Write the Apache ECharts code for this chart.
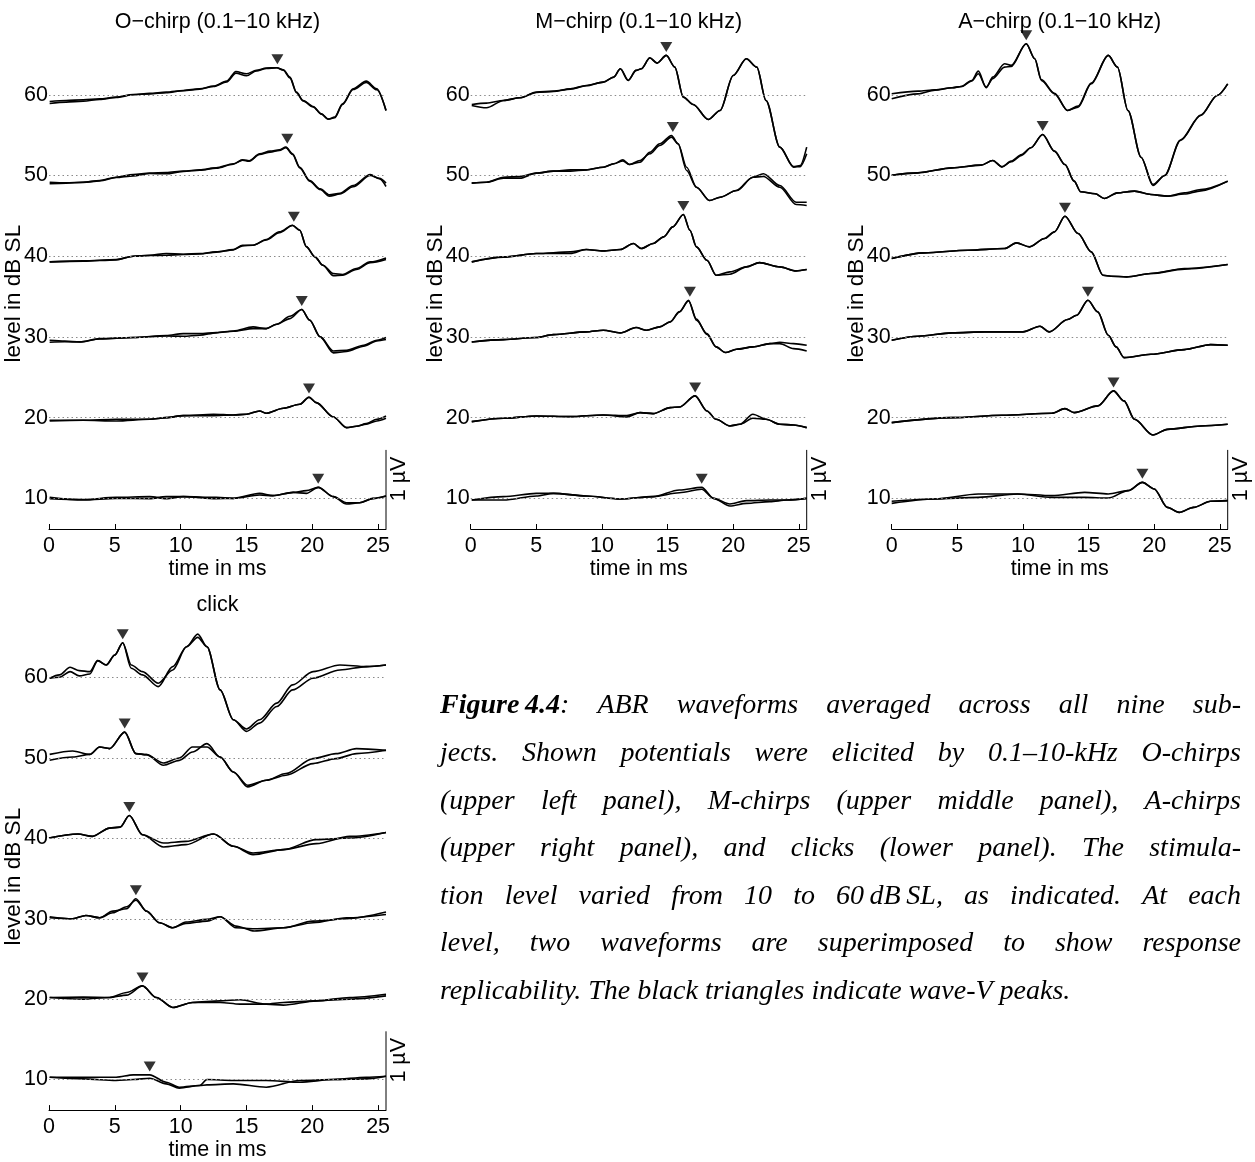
<!DOCTYPE html>
<html><head><meta charset="utf-8">
<script src="https://cdn.jsdelivr.net/npm/echarts@6/dist/echarts.min.js"></script>
<style>html,body{margin:0;padding:0;background:#fff}#c{width:1255px;height:1162px}</style>
</head><body><div id="c"></div>
<script>
// ---------- data ----------
const levels = [60, 50, 40, 30, 20, 10];          // dB SL
const xTicks = [0, 5, 10, 15, 20, 25];            // ms
const panelTitles = ['O\u2212chirp (0.1\u221210 kHz)', 'M\u2212chirp (0.1\u221210 kHz)', 'A\u2212chirp (0.1\u221210 kHz)', 'click'];
const xLabel = 'time in ms';
const yLabel = 'level in dB SL';
const scaleLabel = '1 \u00b5V';
const scaleBar = [[25.6, 6.2], [25.6, 16.0]];     // 1 uV bar in axis units
// rows: [time ms, replicate A, replicate B] deflection in axis units (1 uV ~ 9.8)
const O60 = [[0.05,-0.83,-1.07],[1.3,-0.70,-0.91],[2.6,-0.62,-0.79],[3.85,-0.50,-0.58],[5.1,-0.29,-0.33],[6.4,0.04,0.0],[7.65,0.17,0.12],[8.9,0.33,0.25],[10.2,0.54,0.50],[11.45,0.74,0.70],[12.5,1.07,1.03],[13.5,1.69,1.60],[14.2,2.89,2.69],[15.0,2.60,2.36],[15.75,3.02,2.95],[16.5,3.31,3.25],[17.3,3.35,3.35],[17.8,3.10,3.05],[18.3,2.19,2.10],[18.8,0.33,0.25],[19.3,-0.70,-0.75],[20.06,-1.45,-1.50],[20.7,-2.36,-2.40],[21.2,-3.02,-3.02],[21.7,-2.77,-2.85],[22.3,-1.12,-1.20],[23.1,0.74,0.65],[24.1,1.69,1.53],[24.9,0.74,0.62],[25.6,-1.94,-1.94]];
const O50 = [[0.05,-0.83,-1.03],[1.3,-0.90,-0.95],[2.6,-0.83,-0.85],[3.85,-0.62,-0.66],[5.1,-0.21,-0.25],[6.4,0.12,-0.04],[7.65,0.29,0.25],[8.9,0.37,0.21],[10.2,0.54,0.50],[11.45,0.70,0.66],[12.7,0.95,0.91],[14.0,1.45,1.40],[14.7,1.94,1.90],[15.2,1.82,1.78],[16.0,2.69,2.60],[16.8,3.02,2.89],[17.5,3.18,3.10],[18.0,3.51,3.45],[18.5,2.69,2.60],[19.05,1.03,0.95],[19.8,-0.62,-0.70],[20.6,-1.65,-1.74],[21.3,-2.40,-2.56],[22.1,-2.19,-2.30],[23.1,-1.24,-1.40],[24.4,0.12,0.0],[25.1,-0.41,-0.35],[25.6,-1.36,-0.95]];
const O40 = [[0.05,-0.70,-0.70],[2.6,-0.58,-0.62],[5.1,-0.41,-0.45],[6.4,0.0,0.0],[7.65,0.12,0.08],[8.9,0.33,0.12],[10.2,0.25,0.21],[11.45,0.33,0.29],[12.7,0.54,0.50],[14.0,0.83,0.78],[14.7,1.36,1.28],[15.5,1.36,1.36],[16.5,2.07,2.0],[17.5,3.02,2.90],[18.5,3.84,3.80],[19.05,3.22,3.22],[19.55,1.16,1.20],[20.2,-0.08,-0.08],[20.8,-1.12,-1.12],[21.6,-2.15,-2.40],[22.3,-2.27,-2.35],[23.35,-1.53,-1.65],[24.4,-0.70,-0.80],[25.6,-0.21,-0.41]];
const O30 = [[0.05,-0.41,-0.66],[1.2,-0.50,-0.60],[2.35,-0.62,-0.62],[3.85,-0.21,-0.25],[6.4,-0.08,-0.08],[8.9,0.17,0.12],[10.2,0.41,0.08],[11.45,0.41,0.21],[12.7,0.54,0.50],[14.0,0.74,0.70],[15.5,1.24,1.03],[16.5,1.03,1.03],[17.3,1.57,1.57],[18.3,2.56,2.27],[19.2,3.39,3.39],[19.8,2.07,2.10],[20.6,0.0,0.0],[21.6,-1.74,-1.98],[22.6,-1.65,-1.80],[23.9,-1.03,-1.15],[24.9,-0.41,-0.50],[25.6,-0.08,-0.33]];
const O20 = [[0.05,-0.33,-0.41],[2.6,-0.33,-0.33],[5.1,-0.20,-0.41],[7.65,-0.20,-0.20],[8.9,0.0,0.0],[10.2,0.25,0.25],[12.5,0.41,0.25],[14.0,0.33,0.33],[15.0,0.41,0.41],[16.0,0.83,0.83],[16.5,0.54,0.54],[17.8,1.16,1.16],[19.05,1.65,1.65],[19.75,2.56,2.50],[20.3,1.86,1.86],[21.6,0.08,0.08],[22.6,-1.24,-1.24],[23.35,-1.07,-1.07],[24.1,-0.74,-0.80],[24.9,-0.21,-0.41],[25.6,0.21,-0.08]];
const O10 = [[0.05,0.12,-0.04],[2.6,-0.21,-0.15],[5.1,0.0,0.12],[7.65,-0.04,0.21],[8.9,0.21,-0.04],[10.2,0.21,0.21],[12.7,0.12,-0.04],[14.0,0.0,0.0],[16.0,0.62,0.41],[17.0,0.33,0.33],[18.55,0.74,0.74],[19.55,0.95,0.62],[20.45,1.36,1.36],[21.6,0.21,0.21],[22.6,-0.70,-0.54],[23.6,-0.54,-0.54],[24.6,0.0,-0.04],[25.6,0.29,0.29]];
const M60 = [[0.08,-1.20,-1.32],[1.2,-1.03,-1.61],[2.5,-0.70,-0.70],[3.75,-0.37,-0.37],[5.0,0.33,0.29],[6.3,0.45,0.41],[7.6,0.74,0.70],[8.8,1.16,1.12],[10.1,1.57,1.57],[10.9,2.19,2.19],[11.4,3.22,3.22],[12.0,1.78,1.78],[12.6,3.02,3.02],[13.0,3.22,3.22],[13.65,4.59,4.55],[14.2,3.93,3.93],[14.9,4.88,4.88],[15.55,3.43,3.43],[16.2,-0.29,-0.29],[16.95,-1.20,-1.20],[18.1,-3.06,-3.06],[19.0,-1.94,-1.94],[20.0,2.40,2.40],[21.0,4.46,4.46],[21.8,3.43,3.43],[22.5,-0.70,-0.70],[23.55,-6.49,-6.49],[24.6,-8.97,-8.90],[25.1,-8.76,-8.90],[25.6,-6.49,-7.31]];
const M50 = [[0.08,-0.95,-0.95],[1.2,-0.83,-0.83],[2.5,-0.21,-0.33],[3.75,-0.12,-0.33],[5.0,0.29,0.29],[6.3,0.54,0.54],[7.6,0.54,0.70],[8.8,0.70,0.70],[10.1,1.03,1.03],[10.9,1.45,1.45],[11.6,1.94,1.80],[12.1,1.36,1.36],[12.9,1.65,1.86],[13.65,2.89,2.69],[14.4,3.93,3.72],[15.3,4.96,4.75],[15.8,3.93,3.93],[16.45,0.62,1.03],[17.2,-1.45,-1.45],[18.2,-3.10,-3.10],[19.0,-2.69,-2.69],[20.25,-1.86,-1.86],[21.5,-0.21,-0.21],[22.3,0.21,-0.12],[23.55,-1.24,-1.45],[24.8,-3.31,-3.60],[25.6,-3.31,-3.72]];
const M40 = [[0.08,-0.70,-0.70],[2.5,-0.08,-0.12],[5.0,0.33,0.33],[7.6,0.54,0.33],[8.8,0.83,0.83],[10.1,0.66,0.66],[11.4,0.83,0.83],[12.4,1.57,1.57],[13.0,0.95,0.95],[13.9,1.57,1.57],[14.7,2.40,2.40],[15.4,3.64,3.64],[16.2,5.17,5.17],[16.7,3.22,3.22],[17.2,1.16,1.16],[18.0,-0.50,-0.50],[18.7,-2.36,-2.36],[19.75,-1.94,-2.23],[21.0,-1.32,-1.32],[22.0,-0.79,-0.79],[23.55,-1.32,-1.32],[24.8,-1.82,-1.82],[25.6,-1.65,-1.65]];
const M30 = [[0.08,-0.62,-0.62],[2.5,-0.33,-0.33],[5.0,-0.08,-0.08],[6.3,0.29,0.29],[8.8,0.62,0.62],[10.1,0.83,0.83],[11.4,0.50,0.50],[12.6,1.16,1.16],[13.4,0.83,0.83],[14.4,1.24,1.24],[15.2,1.86,1.86],[15.9,3.10,3.10],[16.6,4.55,4.45],[17.2,2.07,2.20],[18.0,0.41,0.30],[18.7,-1.24,-1.24],[19.4,-1.94,-1.94],[20.25,-1.53,-1.53],[21.5,-1.24,-1.24],[22.8,-0.83,-0.83],[23.55,-0.66,-0.83],[24.6,-0.83,-1.45],[25.6,-1.03,-1.74]];
const M20 = [[0.08,-0.50,-0.50],[2.5,-0.08,-0.08],[5.0,0.21,0.21],[7.6,0.12,0.12],[10.1,0.33,0.33],[11.9,0.08,0.25],[12.9,0.62,0.62],[13.9,0.50,0.50],[15.2,1.24,1.24],[15.9,1.32,1.32],[17.1,2.69,2.69],[18.0,0.83,0.83],[18.7,-0.21,-0.21],[19.75,-1.03,-1.03],[20.5,-0.83,-0.83],[21.5,0.41,-0.08],[22.5,-0.21,-0.21],[23.55,-0.83,-0.83],[24.6,-0.91,-0.91],[25.6,-1.24,-1.24]];
const M10 = [[0.08,-0.21,-0.21],[2.5,0.21,-0.21],[5.0,0.62,0.29],[6.3,0.62,0.62],[8.8,0.29,0.29],[11.4,-0.08,-0.08],[13.9,0.21,0.21],[15.9,1.03,0.70],[17.6,1.36,1.12],[18.5,0.0,0.0],[19.75,-0.95,-0.70],[21.0,-0.62,-0.29],[22.8,-0.41,-0.21],[24.1,-0.21,-0.21],[25.6,0.0,0.0]];
const A60 = [[0.0,0.12,-0.50],[2.0,0.45,0.12],[3.3,0.62,0.58],[4.6,0.87,0.87],[5.3,1.03,1.03],[6.1,1.78,1.70],[6.6,2.93,2.60],[7.2,0.87,0.95],[7.7,2.19,2.00],[8.6,3.84,3.43],[9.1,3.64,3.50],[10.25,6.32,6.32],[10.9,4.46,4.46],[11.4,1.78,1.90],[12.4,0.12,0.20],[13.4,-1.94,-1.94],[14.2,-1.53,-1.40],[15.2,1.36,1.45],[16.5,4.88,4.88],[17.2,3.43,3.43],[18.0,-1.94,-1.94],[19.0,-7.73,-7.73],[19.9,-11.24,-11.10],[20.8,-10.0,-10.0],[22.0,-5.66,-5.60],[23.55,-2.56,-2.50],[24.8,-0.08,-0.08],[25.6,1.36,1.36]];
const A50 = [[0.0,0.04,0.04],[2.0,0.33,0.33],[4.6,0.95,0.95],[6.8,1.28,1.28],[7.7,1.86,1.86],[8.4,1.07,1.07],[9.1,1.78,1.70],[9.9,2.60,2.50],[10.6,3.43,3.43],[11.5,5.08,5.08],[12.4,3.02,3.02],[13.2,1.36,1.36],[13.9,-0.70,-0.70],[14.4,-2.02,-2.02],[15.5,-2.27,-2.27],[16.2,-2.85,-2.85],[17.2,-2.15,-2.15],[18.5,-1.94,-1.94],[19.75,-2.36,-2.36],[21.0,-2.56,-2.56],[22.3,-2.15,-2.30],[23.55,-1.74,-1.90],[25.6,-0.70,-0.70]];
const A40 = [[0.0,-0.29,-0.29],[2.5,0.41,0.41],[5.8,0.74,0.74],[8.6,0.95,0.95],[9.5,1.65,1.65],[10.5,1.16,1.16],[11.65,2.19,2.19],[12.4,3.02,3.02],[13.2,4.96,4.96],[14.2,2.81,2.81],[15.2,0.54,0.54],[16.1,-2.36,-2.36],[16.7,-2.48,-2.48],[17.9,-2.56,-2.56],[19.75,-2.15,-2.15],[22.3,-1.53,-1.60],[25.6,-1.03,-1.03]];
const A30 = [[0.0,-0.41,-0.41],[2.0,0.08,0.08],[4.6,0.50,0.50],[7.1,0.62,0.62],[10.0,0.62,0.62],[11.3,1.32,1.32],[12.0,0.62,0.62],[13.4,2.15,2.15],[14.1,2.69,2.69],[14.95,4.55,4.55],[15.7,3.10,3.10],[16.5,0.21,0.21],[17.1,-1.24,-1.24],[17.7,-2.56,-2.56],[19.75,-2.15,-2.15],[22.3,-1.57,-1.57],[24.3,-0.95,-0.95],[25.6,-1.03,-1.03]];
const A20 = [[0.0,-0.62,-0.62],[4.6,0.0,0.0],[8.4,0.29,0.29],[12.2,0.54,0.54],[13.2,1.12,1.12],[13.9,0.62,0.62],[15.7,1.45,1.45],[16.9,3.31,3.31],[17.7,2.07,2.07],[18.5,-0.21,-0.21],[19.9,-2.15,-2.15],[21.0,-1.45,-1.45],[23.55,-1.03,-1.03],[25.6,-0.83,-0.83]];
const A10 = [[0.0,-0.62,-0.37],[3.3,-0.08,-0.08],[6.6,0.54,0.12],[9.6,0.54,0.54],[12.2,0.33,0.12],[14.7,0.74,0.12],[16.5,0.54,0.04],[18.0,0.95,0.95],[19.1,1.98,1.98],[20.0,1.16,1.16],[21.0,-1.12,-1.12],[21.9,-1.74,-1.74],[23.0,-1.12,-1.12],[24.3,-0.37,-0.37],[25.6,-0.29,-0.29]];
const C60 = [[0.05,-0.08,-0.08],[0.8,0.33,0.04],[1.6,1.28,0.74],[2.3,0.87,0.21],[3.1,0.74,0.45],[3.7,2.11,2.11],[4.35,1.57,1.57],[5.0,2.81,2.81],[5.6,4.34,4.34],[6.25,1.57,1.16],[7.1,0.74,0.33],[8.3,-0.70,-1.12],[9.4,0.95,1.36],[10.45,3.84,3.84],[11.3,5.41,5.0],[12.0,3.84,3.84],[13.0,-1.53,-1.53],[14.0,-5.25,-5.25],[15.0,-6.40,-6.69],[16.0,-5.25,-5.66],[17.3,-3.18,-3.60],[18.5,-0.91,-1.53],[20.06,0.74,-0.08],[22.1,1.57,0.95],[24.1,1.36,1.36],[25.6,1.57,1.57]];
const C50 = [[0.05,0.45,-0.29],[1.8,0.87,0.12],[3.1,0.45,0.45],[3.85,1.36,1.36],[4.6,1.16,1.16],[5.75,3.22,3.22],[6.6,0.54,0.54],[7.4,0.41,0.41],[8.7,-0.91,-0.62],[9.9,-0.30,0.0],[10.9,0.74,1.36],[12.0,1.78,1.36],[13.0,0.12,0.12],[14.0,-1.74,-1.74],[15.1,-3.40,-3.60],[16.5,-2.77,-2.77],[18.0,-1.94,-2.15],[20.06,-0.08,-0.70],[21.8,0.54,-0.08],[23.35,1.16,0.54],[25.6,0.95,0.95]];
const C40 = [[0.0,0.04,0.04],[2.2,0.54,0.54],[3.3,0.25,0.25],[4.6,1.28,1.28],[5.4,1.40,1.40],[6.1,2.85,2.85],[7.1,0.45,0.45],[8.7,-0.58,-1.07],[10.4,-0.37,-0.78],[12.5,0.54,0.54],[14.0,-0.99,-0.99],[15.5,-1.82,-2.02],[17.8,-1.40,-1.40],[20.3,-0.66,-0.16],[22.85,0.25,0.04],[25.6,0.74,0.74]];
const C30 = [[0.05,0.25,0.12],[1.8,0.0,0.0],[2.8,0.41,0.41],[3.85,0.12,0.12],[4.85,0.95,0.74],[5.9,1.24,1.49],[6.6,2.48,2.31],[7.4,0.95,0.95],[8.4,-0.50,-0.50],[9.4,-1.12,-1.12],[10.4,-0.58,-0.41],[12.0,-0.29,-0.08],[13.0,0.25,0.25],[14.2,-0.91,-1.12],[15.6,-1.53,-1.24],[17.8,-1.12,-1.12],[20.06,-0.29,-0.50],[22.6,0.0,0.12],[25.6,0.83,0.54]];
const C20 = [[0.05,0.21,0.21],[2.6,0.0,0.25],[4.6,0.21,0.21],[5.9,0.83,0.50],[7.1,1.65,1.65],[8.15,0.21,0.21],[9.4,-1.03,-1.03],[10.9,-0.41,-0.41],[13.0,-0.21,-0.41],[14.5,-0.08,-0.62],[16.5,-0.62,-0.62],[17.8,-0.74,-0.41],[20.3,-0.21,-0.21],[22.85,0.21,0.0],[25.6,0.62,0.41]];
const C10 = [[0.05,0.29,0.29],[2.6,0.29,0.08],[5.1,0.29,-0.12],[6.4,0.58,0.0],[7.65,0.58,0.17],[8.9,-0.33,-0.54],[9.9,-0.95,-1.07],[11.45,-0.74,-0.74],[12.0,0.0,-0.66],[14.0,-0.12,-0.54],[16.5,-0.12,-0.95],[19.05,-0.33,-0.12],[21.6,0.0,0.0],[24.1,0.29,0.08],[25.6,0.41,0.41]];
// wave-V peaks [latency ms, amplitude] per level (60..10)
const O_peaks = [[17.35,3.35],[18.1,3.51],[18.6,3.84],[19.2,3.39],[19.75,2.56],[20.45,1.36]];
const M_peaks = [[14.9,4.88],[15.4,4.96],[16.2,5.17],[16.7,4.55],[17.1,2.69],[17.6,1.36]];
const A_peaks = [[10.25,6.32],[11.5,5.08],[13.2,4.96],[14.95,4.55],[16.9,3.31],[19.1,1.98]];
const C_peaks = [[5.6,4.34],[5.75,3.22],[6.1,2.85],[6.6,2.48],[7.1,1.65],[7.65,0.58]];
const caption = [
  'Figure\u20094.4: ABR waveforms averaged across all nine sub-',
  'jects. Shown potentials were elicited by 0.1\u201310-kHz O-chirps',
  '(upper left panel), M-chirps (upper middle panel), A-chirps',
  '(upper right panel), and clicks (lower panel). The stimula-',
  'tion level varied from 10 to 60\u2009dB\u2009SL, as indicated. At each',
  'level, two waveforms are superimposed to show response',
  'replicability. The black triangles indicate wave-V peaks.'
];

// ---------- layout ----------
const SANS = '"Liberation Sans", Arial, Helvetica, sans-serif';
const SERIF = '"Liberation Serif", "Times New Roman", serif';
const FS = 21.5;
const grids = [
  {left: 49, top: 38.3, width: 337, height: 490.7},
  {left: 470.7, top: 38.3, width: 336, height: 490.7},
  {left: 891.7, top: 38.3, width: 336, height: 490.7},
  {left: 49, top: 621.3, width: 337, height: 490.7}
];
const panels = [
  {rows: [O60,O50,O40,O30,O20,O10], peaks: O_peaks},
  {rows: [M60,M50,M40,M30,M20,M10], peaks: M_peaks},
  {rows: [A60,A50,A40,A30,A20,A10], peaks: A_peaks},
  {rows: [C60,C50,C40,C30,C20,C10], peaks: C_peaks}
];
const YMIN = 6.2, YMAX = 67, XMAX = 25.6;

const xAxes = grids.map((g, i) => ({
  type: 'value', gridIndex: i, min: 0, max: XMAX,
  axisLine: {show: true, lineStyle: {color: '#000', width: 1}},
  axisTick: {show: true, inside: true, length: 5, customValues: xTicks, lineStyle: {color: '#000'}},
  axisLabel: {customValues: xTicks, fontSize: FS, color: '#000', fontFamily: SANS, margin: 6},
  splitLine: {show: false},
  name: xLabel, nameLocation: 'middle', nameGap: 24,
  nameTextStyle: {fontSize: FS, color: '#000', fontFamily: SANS}
}));
const yAxes = grids.map((g, i) => ({
  type: 'value', gridIndex: i, min: YMIN, max: YMAX,
  axisLine: {show: false}, axisTick: {show: false}, splitLine: {show: false},
  axisLabel: {customValues: levels, fontSize: FS, color: '#000', fontFamily: SANS, margin: 1}
}));

const series = [];
panels.forEach((p, pi) => {
  series.push({
    type: 'line', xAxisIndex: pi, yAxisIndex: pi, data: scaleBar, showSymbol: false,
    lineStyle: {color: '#000', width: 1}, silent: true, clip: false, z: 1,
    markLine: {silent: true, symbol: ['none', 'none'], label: {show: false},
      lineStyle: {type: [1.5, 3], color: '#8a8a8a', width: 1},
      emphasis: {disabled: true},
      data: levels.map(l => ({yAxis: l}))}
  });
  p.rows.forEach((rows, li) => {
    const L = levels[li];
    [1, 2].forEach(k => {
      series.push({
        type: 'line', xAxisIndex: pi, yAxisIndex: pi,
        data: rows.map(r => [r[0], L + r[k]]),
        showSymbol: false, smooth: 0.3, smoothMonotone: 'x',
        lineStyle: {color: '#000', width: 1.6}, silent: true, z: 3
      });
    });
  });
  series.push({
    type: 'scatter', xAxisIndex: pi, yAxisIndex: pi,
    data: p.peaks.map((pk, li) => [pk[0], levels[li] + pk[1]]),
    symbol: 'path://M0,0L10,0L5,8Z', symbolSize: [12, 10], symbolOffset: [0, -8.5],
    itemStyle: {color: '#000'}, clip: false, silent: true, z: 4
  });
});

const chart = echarts.init(document.getElementById('c'), null, {renderer: 'canvas'});
chart.setOption({
  animation: false,
  backgroundColor: '#fff',
  grid: grids.map(g => Object.assign({containLabel: false}, g)),
  xAxis: xAxes, yAxis: yAxes, series: series
});

// ---------- texts ----------
const graphics = [];
grids.forEach((g, i) => {
  const cx = g.left + g.width / 2;
  graphics.push({type: 'text', x: cx, y: g.top - 16, silent: true,
    style: {text: panelTitles[i], fontSize: FS, fontFamily: SANS, fill: '#000', align: 'center', verticalAlign: 'middle'}});
  graphics.push({type: 'text', x: g.left - 35, y: g.top + g.height / 2 + 10, rotation: Math.PI / 2, silent: true,
    style: {text: yLabel, fontSize: FS + 1, fontFamily: SANS, fill: '#000', align: 'center', verticalAlign: 'middle'}});
  const pb = chart.convertToPixel({gridIndex: i}, [XMAX, 12.4]);
  graphics.push({type: 'text', x: pb[0] + 13, y: pb[1], rotation: Math.PI / 2, silent: true,
    style: {text: scaleLabel, fontSize: FS, fontFamily: SANS, fill: '#000', align: 'center', verticalAlign: 'middle'}});
});

// justified caption
const CAP_FS = 28, CAP_LEFT = 440, CAP_RIGHT = 1241, CAP_Y0 = 706, CAP_DY = 47.6;
const ctx = document.createElement('canvas').getContext('2d');
const fItal = 'italic ' + CAP_FS + 'px ' + SERIF;
const fBold = 'italic bold ' + CAP_FS + 'px ' + SERIF;
function measure(font, s) { ctx.font = font; return ctx.measureText(s).width; }
caption.forEach((line, li) => {
  const words = line.split(' ');
  const widths = words.map(w => {
    if (w.startsWith('Figure')) return measure(fBold, w.slice(0, -1)) + measure(fItal, ':');
    return measure(fItal, w);
  });
  const total = widths.reduce((a, b) => a + b, 0);
  const last = li === caption.length - 1;
  const gap = last ? measure(fItal, ' ') : (CAP_RIGHT - CAP_LEFT - total) / (words.length - 1);
  let x = CAP_LEFT;
  const y = CAP_Y0 + li * CAP_DY;
  words.forEach((w, wi) => {
    if (w.startsWith('Figure')) {
      graphics.push({type: 'text', x: x, y: y, silent: true, style: {
        text: '{b|' + w.slice(0, -1) + '}{n|:}', fill: '#000', verticalAlign: 'middle', align: 'left',
        rich: {b: {fontSize: CAP_FS, fontFamily: SERIF, fontStyle: 'italic', fontWeight: 'bold', fill: '#000'},
               n: {fontSize: CAP_FS, fontFamily: SERIF, fontStyle: 'italic', fill: '#000'}}}});
    } else {
      graphics.push({type: 'text', x: x, y: y, silent: true, style: {
        text: w, fontSize: CAP_FS, fontFamily: SERIF, fontStyle: 'italic', fill: '#000', verticalAlign: 'middle', align: 'left'}});
    }
    x += widths[wi] + gap;
  });
});
chart.setOption({graphic: graphics});
</script></body></html>
